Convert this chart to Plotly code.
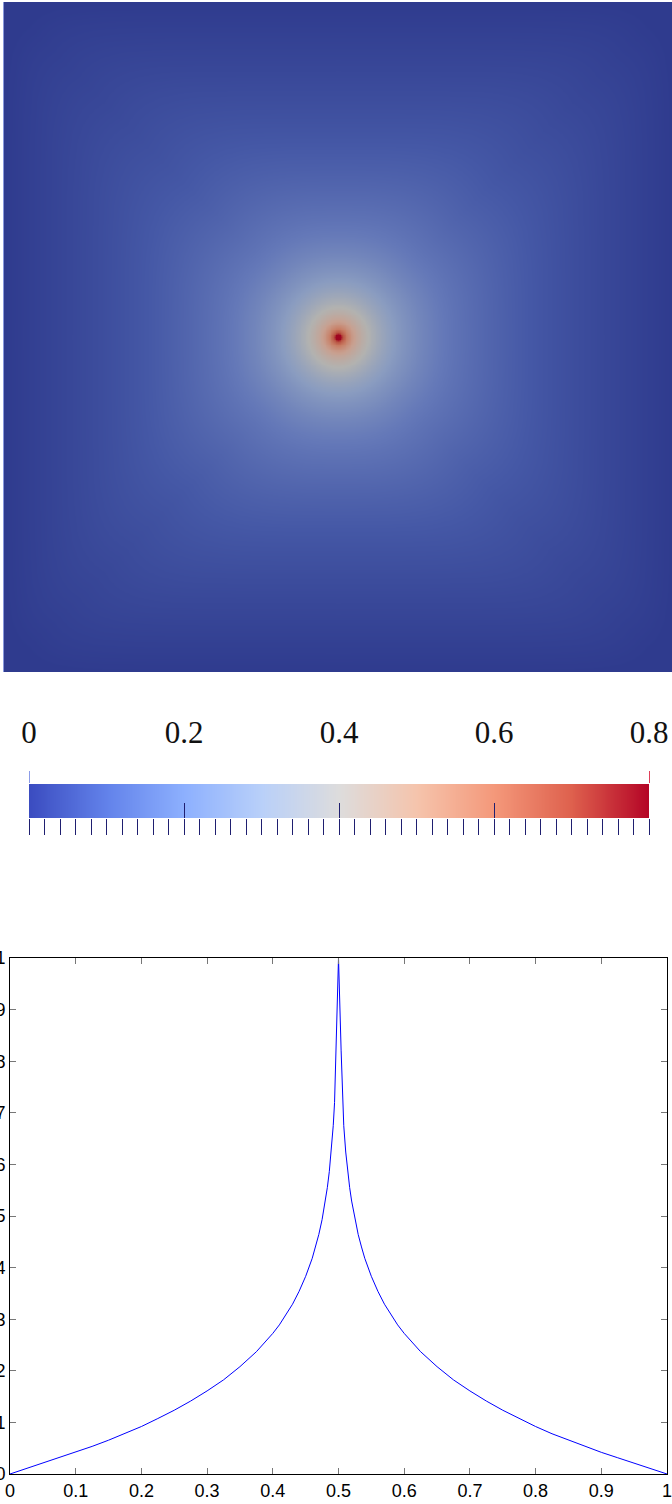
import numpy as np
import plotly.graph_objects as go

# ---------------- data ----------------
# centre-line profile u(x) through the point source (line plot), left half incl. centre
half_x = [0.0, 0.025, 0.05, 0.075, 0.10, 0.125, 0.15, 0.175, 0.20, 0.225, 0.25, 0.275,
          0.30, 0.325, 0.35, 0.375, 0.40, 0.41, 0.42, 0.43, 0.44, 0.45, 0.46, 0.465,
          0.47, 0.475, 0.48, 0.483, 0.486, 0.489, 0.492, 0.494, 0.496, 0.50]
half_u = [0.0, 0.0105, 0.021, 0.0315, 0.042, 0.0535, 0.0655, 0.078, 0.092, 0.1075, 0.1236, 0.1414,
          0.161, 0.1824, 0.208, 0.237, 0.2725, 0.289, 0.308, 0.329, 0.354, 0.383, 0.418, 0.440,
          0.464, 0.493, 0.529, 0.555, 0.586, 0.624, 0.675, 0.72, 0.82, 1.0]
# right half mirrors the left half
right_x = [1.0 - v for v in half_x[-2::-1]]
right_u = half_u[-2::-1]
line_x = half_x + right_x
line_u = half_u + right_u

# colour bar
cbar_tickvals = [0.0, 0.2, 0.4, 0.6, 0.8]
cbar_ticktext = ["0", "0.2", "0.4", "0.6", "0.8"]
cbar_minor = [round(0.02 * i, 2) for i in range(41)]
cbar_zmax = 0.8

# line plot ticks
plot_ticks = [0.0, 0.1, 0.2, 0.3, 0.4, 0.5, 0.6, 0.7, 0.8, 0.9, 1.0]
plot_ticktext = ["0", "0.1", "0.2", "0.3", "0.4", "0.5", "0.6", "0.7", "0.8", "0.9", "1"]

# ---------------- field for the top image (built from the profile) ----------------
prof_r = [0.5 - v for v in half_x][::-1]   # distance from centre
prof_u = half_u[::-1]
n = 401
g = np.linspace(0.0, 1.0, n)
X, Y = np.meshgrid(g, g)
dx = np.abs(X - 0.5)
dy = np.abs(Y - 0.5)
m = np.maximum(dx, dy)
p = 2.0 + 10.0 * (m / 0.5) ** 3
safe_m = np.where(m > 0, m, 1.0)
d = np.where(m > 0, m * ((dx / safe_m) ** p + (dy / safe_m) ** p) ** (1.0 / p), 0.0)
Z = np.round(np.interp(d, prof_r, prof_u, right=0.0), 4)

coolwarm = [[0.0, "#3b4cc0"], [0.125, "#6282ea"], [0.25, "#8db0fe"], [0.375, "#b9d0f9"],
            [0.5, "#dddcdc"], [0.625, "#f5c4ac"], [0.75, "#f4987a"], [0.875, "#de604d"],
            [1.0, "#b40426"]]
shaded = [[0.0, "#2f3b8e"], [0.125, "#4558a6"], [0.25, "#6478b8"], [0.375, "#8a9cc0"],
          [0.5, "#b2b2b0"], [0.625, "#c8a090"], [0.75, "#c87d64"], [0.875, "#b85040"],
          [1.0, "#9e0421"]]

H = 1504.0
W = 672.0

fig = go.Figure()

fig.add_trace(go.Heatmap(x=g, y=g, z=Z, zmin=0, zmax=cbar_zmax, colorscale=shaded,
                         zsmooth="best", showscale=False, hoverinfo="skip",
                         xaxis="x", yaxis="y"))

cb_x = np.linspace(0, cbar_zmax, 161)
fig.add_trace(go.Heatmap(x=cb_x, y=[0.5], z=[cb_x], zmin=0, zmax=cbar_zmax,
                         colorscale=coolwarm, zsmooth="best", showscale=False,
                         hoverinfo="skip", xaxis="x2", yaxis="y2"))
for ax in ["x3", "x4", "x5", "x6"]:
    fig.add_trace(go.Scatter(x=[], y=[], xaxis=ax, yaxis="y2", showlegend=False))

fig.add_trace(go.Scatter(x=line_x, y=line_u, mode="lines",
                         line=dict(color="#0000ff", width=1),
                         xaxis="x7", yaxis="y7", showlegend=False))

hidden = dict(showgrid=False, zeroline=False, showticklabels=False, ticks="", automargin=False)
tickcol = "#1f1f70"

fig.update_layout(
    width=672, height=1504,
    margin=dict(l=0, r=0, t=0, b=0, pad=0, autoexpand=False),
    paper_bgcolor="white", plot_bgcolor="white",
    showlegend=False,
    xaxis=dict(domain=[4 / W, 1.0], range=[0, 1], anchor="y", **hidden),
    yaxis=dict(domain=[1 - 672 / H, 1 - 2 / H], range=[0, 1], anchor="x",
               showline=True, linecolor="#8898dc", linewidth=1, **hidden),
    xaxis2=dict(domain=[29 / W, 649 / W], range=[0, cbar_zmax], anchor="y2",
                showgrid=False, zeroline=False, showticklabels=False, automargin=False,
                ticks="outside", tickmode="array", tickvals=cbar_minor,
                ticklen=16, tickwidth=1.2, tickcolor=tickcol),
    yaxis2=dict(domain=[1 - 818 / H, 1 - 784 / H], range=[0, 1], anchor="x2", **hidden),
    xaxis3=dict(overlaying="x2", anchor="y2", side="bottom", range=[0, cbar_zmax],
                showgrid=False, zeroline=False, showticklabels=False, automargin=False,
                ticks="inside", tickmode="array", tickvals=cbar_tickvals[1:-1],
                ticklen=15, tickwidth=1.2, tickcolor=tickcol),
    xaxis4=dict(overlaying="x2", anchor="y2", side="top", range=[0, cbar_zmax],
                showgrid=False, zeroline=False, ticks="", automargin=False,
                tickmode="array", tickvals=cbar_tickvals, ticktext=cbar_ticktext,
                tickfont=dict(family="Liberation Serif", size=31, color="#111111"),
                ticklabelstandoff=34, ticklabeloverflow="allow"),
    xaxis5=dict(overlaying="x2", anchor="y2", side="top", range=[0, cbar_zmax],
                showgrid=False, zeroline=False, showticklabels=False, automargin=False,
                ticks="outside", tickmode="array", tickvals=[cbar_tickvals[0]],
                ticklen=12, tickwidth=1.2, tickcolor="#8c9ce8"),
    xaxis6=dict(overlaying="x2", anchor="y2", side="top", range=[0, cbar_zmax],
                showgrid=False, zeroline=False, showticklabels=False, automargin=False,
                ticks="outside", tickmode="array", tickvals=[cbar_tickvals[-1]],
                ticklen=12, tickwidth=1.2, tickcolor="#e0405a"),
    xaxis7=dict(domain=[10 / W, 667 / W], range=[0, 1], anchor="y7",
                tickmode="array", tickvals=plot_ticks, ticktext=plot_ticktext,
                ticks="inside", ticklen=6, tickcolor="#777777", tickwidth=1,
                showline=True, linecolor="black", linewidth=1, mirror="ticks",
                showgrid=False, zeroline=False, automargin=False,
                ticklabeloverflow="allow",
                tickfont=dict(family="Liberation Sans", size=18, color="black")),
    yaxis7=dict(domain=[1 - 1474 / H, 1 - 958 / H], range=[0, 1], anchor="x7",
                tickmode="array", tickvals=plot_ticks, ticktext=plot_ticktext,
                ticks="inside", ticklen=6, tickcolor="#777777", tickwidth=1,
                showline=True, linecolor="black", linewidth=1, mirror="ticks",
                showgrid=False, zeroline=False, automargin=False,
                ticklabeloverflow="allow",
                tickfont=dict(family="Liberation Sans", size=18, color="black")),
)

fig.write_html(
    "out.html",
    config={"displayModeBar": False},
    post_script="document.body.style.margin='0';document.body.style.overflow='hidden';"
                "document.documentElement.style.overflow='hidden';",
)
